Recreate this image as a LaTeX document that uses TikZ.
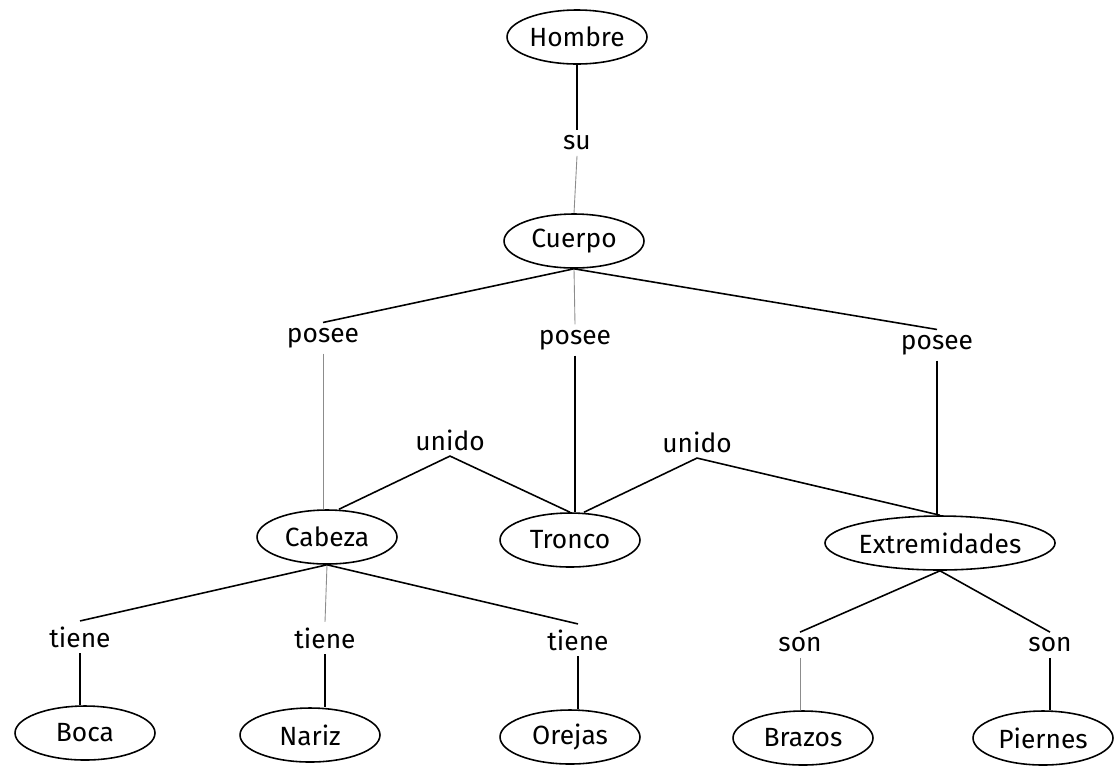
\documentclass[tikz,border=0pt]{standalone}
\usepackage{fontspec}
\setmainfont{Fira Sans}
\usetikzlibrary{shapes.geometric}
\tikzset{
  concept/.style={draw, ellipse, line width=0.9pt, minimum width=2.8cm,
    minimum height=1.08cm, inner xsep=0pt, inner ysep=2pt,
    font=\fontsize{15}{18}\selectfont},
  rel/.style={inner sep=3pt, font=\fontsize{15}{18}\selectfont},
  link/.style={line width=0.9pt},
  faint/.style={line width=0.5pt, black!45},
}
\begin{document}
\begin{tikzpicture}[x=0.02cm, y=-0.02cm]
\useasboundingbox (0,0) rectangle (1114,765);
% concepts
\node[concept] (hombre) at (577,37) {Hombre};
\node[concept] (cuerpo) at (574,241) {Cuerpo};
\node[concept] (cabeza) at (327,537) {Cabeza};
\node[concept] (tronco) at (570,540) {Tronco};
\node[concept] (extrem) at (940,543) {Extremidades};
\node[concept] (boca) at (85,733) {Boca};
\node[concept] (nariz) at (310,735) {Nariz};
\node[concept] (orejas) at (570,737) {Orejas};
\node[concept] (brazos) at (803,738) {Brazos};
\node[concept] (piernes) at (1043,738) {Piernes};
% relations
\node[rel] (su) at (577,143) {su};
\node[rel] (poseeA) at (323,338) {posee};
\node[rel] (poseeB) at (575,340) {posee};
\node[rel] (poseeC) at (937,345) {posee};
\node[rel] (unidoA) at (450,440) {unido};
\node[rel] (unidoB) at (697,442) {unido};
\node[rel] (tieneA) at (80,637) {tiene};
\node[rel] (tieneB) at (325,638) {tiene};
\node[rel] (tieneC) at (578,640) {tiene};
\node[rel] (sonA) at (800,645) {son};
\node[rel] (sonB) at (1050,645) {son};
% Hombre -- Cuerpo
\draw[link] (hombre.south) -- (su.north);
\draw[faint] (su.south) -- (cuerpo.north);
% Cuerpo -- posee
\draw[link] (cuerpo.south) -- (poseeA.north);
\draw[faint] (cuerpo.south) -- (poseeB.north);
\draw[link] (cuerpo.south) -- (poseeC.north);
\draw[faint] (poseeA.south) -- (poseeA.south |- cabeza.north);
\draw[link] (poseeB.south) -- (poseeB.south |- tronco.north);
\draw[link] (poseeC.south) -- (poseeC.south |- extrem.north);
% unido
\draw[link] (cabeza.north) ++(12,0) -- (unidoA.south) -- (tronco.north);
\draw[link] (tronco.north) ++(14,0) -- (unidoB.south) -- (extrem.north);
% Cabeza -- tiene
\draw[link] (cabeza.south) -- (tieneA.north);
\draw[faint] (cabeza.south) -- (tieneB.north);
\draw[link] (cabeza.south) -- (tieneC.north);
\draw[link] (tieneA.south) -- (tieneA.south |- boca.north);
\draw[link] (tieneB.south) -- (tieneB.south |- nariz.north);
\draw[link] (tieneC.south) -- (tieneC.south |- orejas.north);
% Extremidades -- son
\draw[link] (extrem.south) -- (sonA.north);
\draw[link] (extrem.south) -- (sonB.north);
\draw[faint] (sonA.south) -- (sonA.south |- brazos.north);
\draw[link] (sonB.south) -- (sonB.south |- piernes.north);
\end{tikzpicture}
\end{document}
